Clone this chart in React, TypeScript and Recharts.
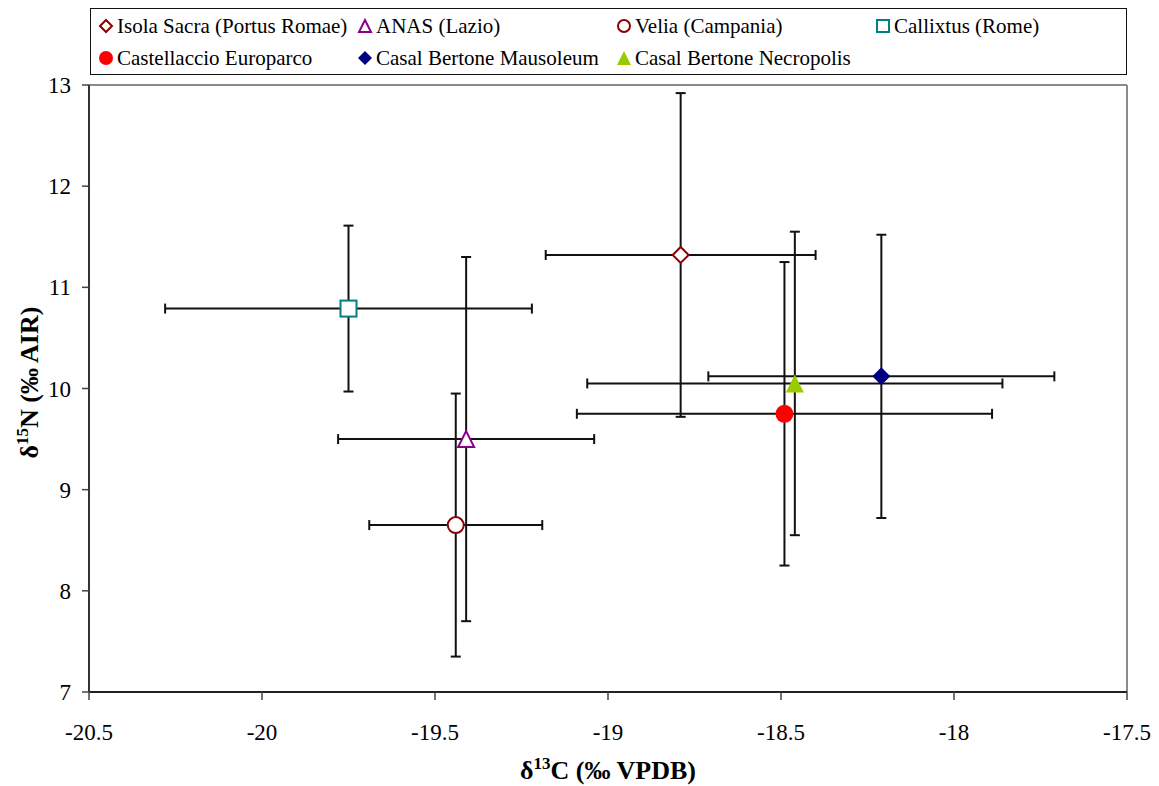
import React from "react";
import {
  ErrorBar,
  ReferenceLine,
  Scatter,
  ScatterChart,
  XAxis,
  YAxis,
} from "recharts";

// site means and 1 SD
const SITES = [
  "Isola Sacra (Portus Romae)",
  "ANAS (Lazio)",
  "Velia (Campania)",
  "Callixtus (Rome)",
  "Castellaccio Europarco",
  "Casal Bertone Mausoleum",
  "Casal Bertone Necropolis",
];
const D13C = [-18.79, -19.41, -19.44, -19.75, -18.49, -18.21, -18.46];
const D15N = [11.32, 9.5, 8.65, 10.79, 9.75, 10.12, 10.05];
const SD13C = [0.39, 0.37, 0.25, 0.53, 0.6, 0.5, 0.6];
const SD15N = [1.6, 1.8, 1.3, 0.82, 1.5, 1.4, 1.5];

const X_TICKS = [-20.5, -20, -19.5, -19, -18.5, -18, -17.5];
const Y_TICKS = [7, 8, 9, 10, 11, 12, 13];

type Kind = "diamond" | "triangle" | "circle" | "square";
interface MarkerStyle {
  kind: Kind;
  color: string;
  filled: boolean;
}

const STYLES: MarkerStyle[] = [
  { kind: "diamond", color: "#8b0000", filled: false },
  { kind: "triangle", color: "#8b008b", filled: false },
  { kind: "circle", color: "#8b0000", filled: false },
  { kind: "square", color: "#008080", filled: false },
  { kind: "circle", color: "#ff0000", filled: true },
  { kind: "diamond", color: "#000080", filled: true },
  { kind: "triangle", color: "#99cc00", filled: true },
];

const FONT = '"Times New Roman", "Liberation Serif", Tinos, "DejaVu Serif", serif';

function Marker({ cx, cy, s, r }: { cx: number; cy: number; s: MarkerStyle; r: number }) {
  const fill = s.filled ? s.color : "#fff";
  const stroke = s.color;
  const sw = s.filled ? 0 : 2;
  const rr = s.filled ? r : r - 1;
  if (s.kind === "circle") {
    return <circle cx={cx} cy={cy} r={rr} fill={fill} stroke={stroke} strokeWidth={sw} />;
  }
  if (s.kind === "square") {
    return (
      <rect x={cx - rr} y={cy - rr} width={rr * 2} height={rr * 2} fill={fill} stroke={stroke} strokeWidth={sw} />
    );
  }
  if (s.kind === "diamond") {
    const pts = `${cx},${cy - rr} ${cx + rr},${cy} ${cx},${cy + rr} ${cx - rr},${cy}`;
    return <polygon points={pts} fill={fill} stroke={stroke} strokeWidth={sw} />;
  }
  const pts = `${cx},${cy - rr} ${cx + rr},${cy + rr} ${cx - rr},${cy + rr}`;
  return <polygon points={pts} fill={fill} stroke={stroke} strokeWidth={sw} strokeLinejoin="miter" />;
}

function XTitle(props: any) {
  const vb = props.viewBox;
  return (
    <text
      x={vb.x + vb.width / 2}
      y={vb.y + 87}
      textAnchor="middle"
      fontFamily={FONT}
      fontWeight="bold"
      fontSize={26}
      fill="#000"
    >
      δ<tspan fontSize={17} dy={-10}>13</tspan>
      <tspan dy={10}>C (‰ VPDB)</tspan>
    </text>
  );
}

function YTitle(props: any) {
  const vb = props.viewBox;
  const x = vb.x + 38;
  const y = vb.y + vb.height / 2 - 6;
  return (
    <text
      x={x}
      y={y}
      transform={`rotate(-90 ${x} ${y})`}
      textAnchor="middle"
      fontFamily={FONT}
      fontWeight="bold"
      fontSize={26}
      fill="#000"
    >
      δ<tspan fontSize={17} dy={-10}>15</tspan>
      <tspan dy={10}>N (‰ AIR)</tspan>
    </text>
  );
}

function Legend() {
  return (
    <div
      style={{
        position: "absolute",
        left: 90,
        top: 8,
        width: 1037,
        height: 67,
        border: "1.5px solid #111",
        boxSizing: "border-box",
        display: "grid",
        gridTemplateColumns: "repeat(4, 259px)",
        gridAutoRows: "32px",
        paddingLeft: 7,
        paddingTop: 1,
        fontFamily: FONT,
        fontWeight: 400,
        fontSize: 21,
        color: "#000",
        background: "#fff",
      }}
    >
      {SITES.map((name, i) => (
        <div key={name} style={{ display: "flex", alignItems: "center", gap: 3, whiteSpace: "nowrap" }}>
          <svg width={16} height={16}>
            <Marker cx={8} cy={8} s={STYLES[i]} r={7} />
          </svg>
          <span>{name}</span>
        </div>
      ))}
    </div>
  );
}

export default function App() {
  return (
    <div style={{ position: "absolute", left: 0, top: 0, width: 1159, height: 786, background: "#fff" }}>
      <ScatterChart width={1159} height={786} margin={{ top: 85, right: 32, bottom: 0, left: 0 }}>
        <ReferenceLine y={13} stroke="#8a8a8a" strokeWidth={2} />
        <ReferenceLine x={-17.5} stroke="#8a8a8a" strokeWidth={2} />
        <XAxis
          type="number"
          dataKey="x"
          domain={[-20.5, -17.5]}
          ticks={X_TICKS}
          allowDataOverflow
          height={94}
          tickSize={8}
          tickMargin={24}
          tick={{ fill: "#000", fontSize: 23, fontFamily: FONT, fontWeight: 400 }}
          axisLine={{ stroke: "#222", strokeWidth: 2 }}
          tickLine={{ stroke: "#444", strokeWidth: 1.5 }}
          label={{ content: (p: any) => <XTitle {...p} /> }}
        />
        <YAxis
          type="number"
          dataKey="y"
          domain={[7, 13]}
          ticks={Y_TICKS}
          allowDataOverflow
          width={89}
          tickSize={7}
          tickMargin={11}
          tick={{ fill: "#000", fontSize: 23, fontFamily: FONT, fontWeight: 400 }}
          axisLine={{ stroke: "#333", strokeWidth: 2 }}
          tickLine={{ stroke: "#444", strokeWidth: 1.5 }}
          label={{ content: (p: any) => <YTitle {...p} /> }}
        />
        {SITES.map((name, i) => (
          <Scatter
            key={name}
            name={name}
            data={[{ x: D13C[i], y: D15N[i], ex: SD13C[i], ey: SD15N[i] }]}
            isAnimationActive={false}
            shape={(p: any) => <Marker cx={p.cx} cy={p.cy} s={STYLES[i]} r={9} />}
          >
            <ErrorBar dataKey="ex" direction="x" width={5} stroke="#111" strokeWidth={2} isAnimationActive={false} />
            <ErrorBar dataKey="ey" direction="y" width={5} stroke="#111" strokeWidth={2} isAnimationActive={false} />
          </Scatter>
        ))}
      </ScatterChart>
      <Legend />
    </div>
  );
}
